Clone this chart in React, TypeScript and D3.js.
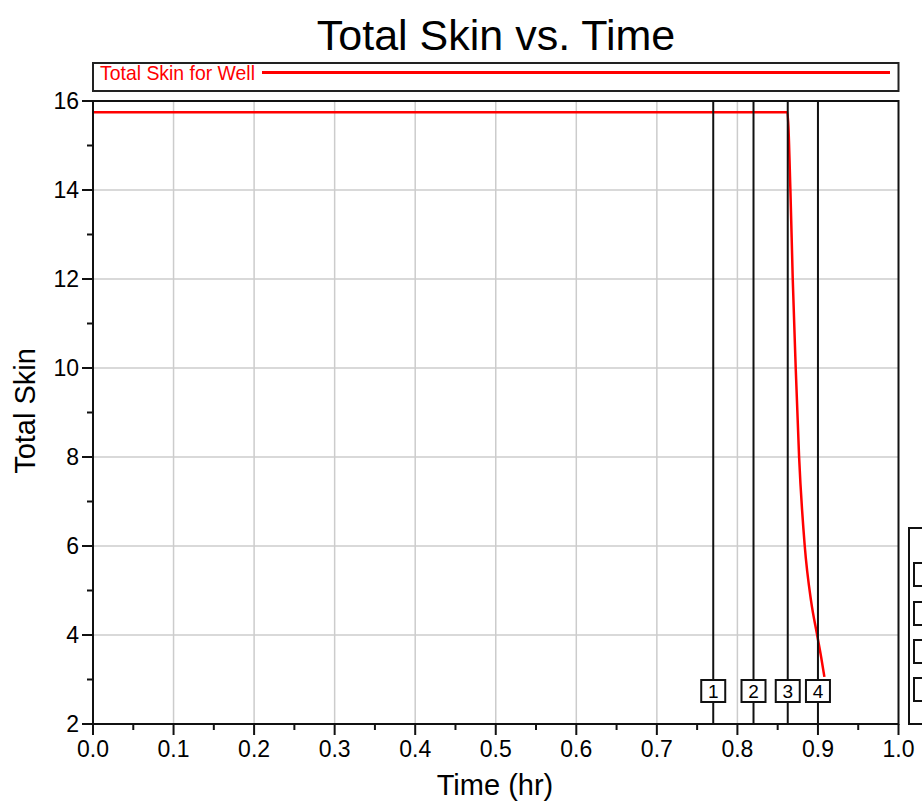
import React from 'react';
import * as d3 from 'd3';

// Series
const timeHr = [0, 0.862, 0.8658, 0.8687, 0.8724, 0.8766, 0.8836, 0.8915, 0.899, 0.904, 0.908];
const totalSkin = [15.75, 15.75, 14, 12, 10, 8, 6, 4.76, 4.0, 3.5, 3.06];

// Event markers
const markerTimes = [0.77, 0.82, 0.8625, 0.9];
const markerLabels = ['1', '2', '3', '4'];

const xMajorTicks = [0, 0.1, 0.2, 0.3, 0.4, 0.5, 0.6, 0.7, 0.8, 0.9, 1.0];
const xMinorTicks = [0.05, 0.15, 0.25, 0.35, 0.45, 0.55, 0.65, 0.75, 0.85, 0.95];
const yMajorTicks = [2, 4, 6, 8, 10, 12, 14, 16];
const yMinorTicks = [3, 5, 7, 9, 11, 13, 15];

const W = 922;
const H = 803;
const FONT = '"Liberation Sans", Arial, sans-serif';

const App: React.FC = () => {
  const x = d3.scaleLinear().domain([0, 1]).range([93, 898.5]);
  const y = d3.scaleLinear().domain([2, 16]).range([724, 101]);
  const [x0, x1] = x.range();
  const [yBottom, yTop] = y.range();

  const line = d3
    .line<number>()
    .x((_, i) => x(timeHr[i]))
    .y(d => y(d))
    .curve(d3.curveMonotoneX);

  return (
    <svg
      width={W}
      height={H}
      style={{ position: 'absolute', left: 0, top: 0, background: '#fff' }}
      fontFamily={FONT}
    >
      {/* title */}
      <text x={496} y={50} fontSize={43} textAnchor="middle" fill="#000">
        Total Skin vs. Time
      </text>

      {/* legend */}
      <rect x={x0} y={63} width={x1 - x0} height={28} fill="#fff" stroke="#222" strokeWidth={2} />
      <text x={100} y={80} fontSize={21} fill="#ff0000" textLength={155} lengthAdjust="spacingAndGlyphs">
        Total Skin for Well
      </text>
      <line x1={262} x2={890} y1={72.5} y2={72.5} stroke="#ff0000" strokeWidth={3} />

      {/* grid */}
      {xMajorTicks.slice(1, -1).map(t => (
        <line key={'gx' + t} x1={x(t)} x2={x(t)} y1={yTop} y2={yBottom} stroke="#cccccc" strokeWidth={1.5} />
      ))}
      {yMajorTicks.slice(1, -1).map(t => (
        <line key={'gy' + t} x1={x0} x2={x1} y1={y(t)} y2={y(t)} stroke="#cccccc" strokeWidth={1.5} />
      ))}

      {/* data */}
      <path d={line(totalSkin) || ''} fill="none" stroke="#ff0000" strokeWidth={2.5} />

      {/* markers */}
      {markerTimes.map((t, i) => (
        <g key={'m' + i}>
          <line x1={x(t)} x2={x(t)} y1={yTop} y2={yBottom} stroke="#111" strokeWidth={2} />
          <rect x={x(t) - 12} y={680} width={24} height={22} fill="#fff" stroke="#111" strokeWidth={2} />
          <text x={x(t)} y={698} fontSize={19} textAnchor="middle" fill="#000">
            {markerLabels[i]}
          </text>
        </g>
      ))}

      {/* frame */}
      <rect x={x0} y={yTop} width={x1 - x0} height={yBottom - yTop} fill="none" stroke="#111" strokeWidth={2} />

      {/* x axis ticks */}
      {xMajorTicks.map(t => (
        <g key={'xt' + t}>
          <line x1={x(t)} x2={x(t)} y1={yBottom} y2={yBottom + 11} stroke="#111" strokeWidth={2} />
          <text x={x(t)} y={757} fontSize={23} textAnchor="middle" fill="#000">
            {d3.format('.1f')(t)}
          </text>
        </g>
      ))}
      {xMinorTicks.map(t => (
        <line key={'xm' + t} x1={x(t)} x2={x(t)} y1={yBottom} y2={yBottom + 6} stroke="#111" strokeWidth={2} />
      ))}

      {/* y axis ticks */}
      {yMajorTicks.map(t => (
        <g key={'yt' + t}>
          <line x1={x0 - 11} x2={x0} y1={y(t)} y2={y(t)} stroke="#111" strokeWidth={2} />
          <text x={79} y={y(t) + 8} fontSize={23} textAnchor="end" fill="#000">
            {t}
          </text>
        </g>
      ))}
      {yMinorTicks.map(t => (
        <line key={'ym' + t} x1={x0 - 6} x2={x0} y1={y(t)} y2={y(t)} stroke="#111" strokeWidth={2} />
      ))}

      {/* axis titles */}
      <text x={495} y={795} fontSize={29} textAnchor="middle" fill="#000">
        Time (hr)
      </text>
      <text transform={`translate(35, ${411}) rotate(-90)`} fontSize={29} textAnchor="middle" fill="#000">
        Total Skin
      </text>

      {/* clipped side panel */}
      <rect x={909} y={528} width={40} height={196} fill="#fff" stroke="#111" strokeWidth={2} />
      {[563, 602, 640, 678].map(v => (
        <rect key={'sp' + v} x={914} y={v} width={30} height={23} fill="#fff" stroke="#111" strokeWidth={2} />
      ))}
    </svg>
  );
};

export default App;
